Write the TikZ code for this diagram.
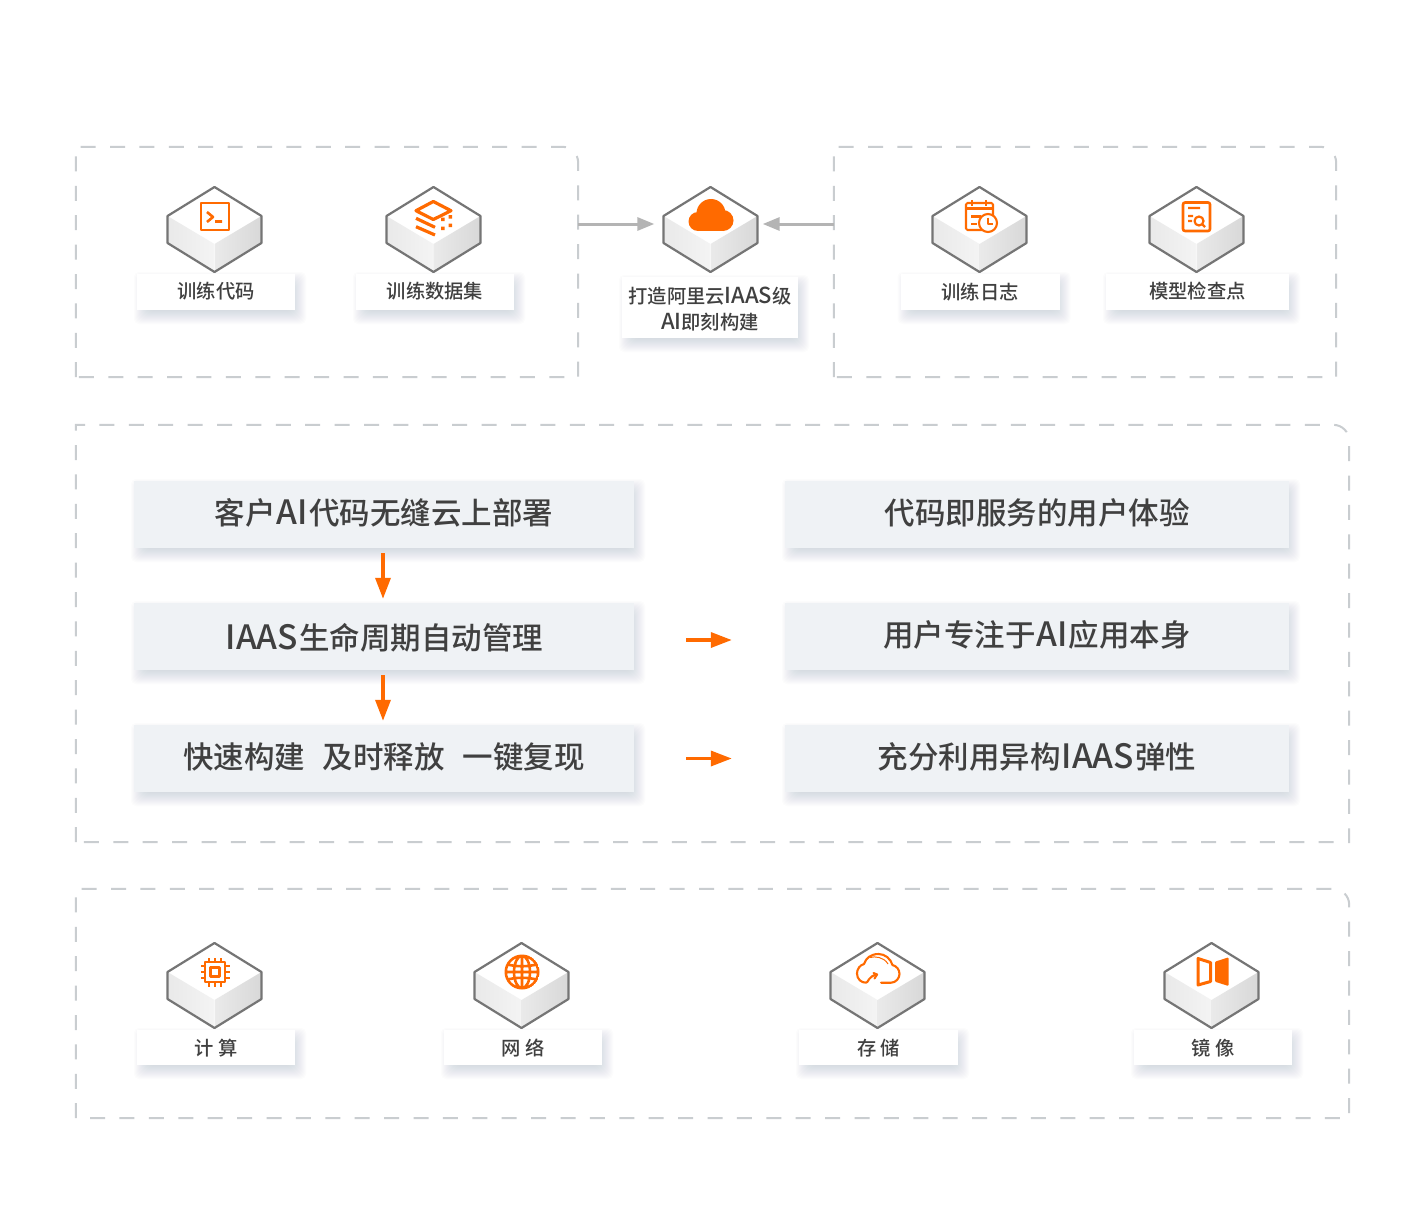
\documentclass[tikz,border=0pt]{standalone}
\usepackage{fontspec}
\setmainfont{Noto Sans CJK SC Medium}
\usetikzlibrary{arrows.meta}
\definecolor{org}{HTML}{FF6A00}
\definecolor{txt}{HTML}{404040}
\definecolor{dashc}{HTML}{C9CDD0}
\definecolor{shc}{HTML}{5F6F7F}
\definecolor{cubeline}{HTML}{757575}
\definecolor{greyarrow}{HTML}{B4B4B4}
\definecolor{mainfill}{HTML}{EFF2F5}
\definecolor{leftA}{HTML}{E9E9E9}\definecolor{leftB}{HTML}{F4F4F4}
\definecolor{rightA}{HTML}{EAEAEA}\definecolor{rightB}{HTML}{D8D8D8}
\newcommand{\lat}[1]{{\fontsize{33.5}{36}\selectfont\hspace{1pt}#1\hspace{1pt}}}
\newcommand{\lats}[1]{{\fontsize{22}{26}\selectfont #1}}
\newcommand{\up}[2]{\raisebox{#1}[\height][\depth]{#2}}
\tikzset{
  x=1pt,y=-1pt,
  lblbox/.style={fill=white,text=txt,font=\fontsize{19.3}{26}\selectfont,inner sep=0pt,align=center},
  mainbox/.style={fill=mainfill,text=txt,font=\fontsize{30.5}{36}\selectfont,inner sep=0pt,align=center},
  groupline/.style={draw=dashc,line width=2pt,dash pattern=on 15pt off 14.4pt},
  groupbox/.style={inner sep=0pt},
  cubeanchor/.style={inner sep=0pt,minimum width=94pt,minimum height=85pt},
  oarrow/.style={draw=org,line width=3.4pt,-{Triangle[length=21pt,width=15pt]}},
  garrow/.style={draw=greyarrow,line width=3pt,-{Triangle[length=17pt,width=13pt]}},
  icon/.style={draw=org,line width=2.6pt,fill=none,line join=round},
}
\newcommand{\boxnode}[7]{% name, style, cx, cy, w, h, text
  \foreach \i in {-8,...,8}{
    \fill[shc,opacity=.017,rounded corners=5pt] (#3+5-#5/2-\i,#4+6-#6/2-\i) rectangle (#3+3+#5/2+\i,#4+6+#6/2+\i);
  }
  \node[#2,minimum width=#5pt,minimum height=#6pt] (#1) at (#3,#4) {#7};}
\newcommand{\cubeat}[3]{%
  \node[cubeanchor] (#1) at (#2-0.5,#3+42.5) {};
  \begin{scope}[shift={(#2-0.5,#3)}]
    \fill[white] (0,0) -- (47,29) -- (0,57) -- (-47,29) -- cycle;
    \shade[left color=leftA,right color=leftB] (-47,29) -- (0,57) -- (0,85) -- (-47,56) -- cycle;
    \shade[left color=rightA,right color=rightB] (47,29) -- (0,57) -- (0,85) -- (47,56) -- cycle;
    \draw[cubeline,line width=2.2pt,line join=round] (0,0) -- (47,29) -- (47,56) -- (0,85) -- (-47,56) -- (-47,29) -- cycle;
  \end{scope}}
\newcommand{\groupframe}[1]{%
  \draw[groupline] (#1.south west) -- (#1.north west) -- ([xshift=-16pt]#1.north east) arc[start angle=90,end angle=0,radius=16pt] -- (#1.south east) -- cycle;}
\begin{document}
\begin{tikzpicture}
\fill[white] (0,0) rectangle (1418,1209);
\useasboundingbox (0,0) rectangle (1418,1209);
% groups
\node[groupbox,minimum width=502pt,minimum height=230pt] (g1) at (327,262) {};
\node[groupbox,minimum width=502pt,minimum height=230pt] (g2) at (1085,262) {};
\node[groupbox,minimum width=1273pt,minimum height=417pt] (g3) at (712.5,633.5) {};
\node[groupbox,minimum width=1273pt,minimum height=229pt] (g4) at (712.5,1003.5) {};
\groupframe{g1}\groupframe{g2}\groupframe{g3}\groupframe{g4}
% cubes
\cubeat{c1}{215}{187}\cubeat{c2}{434}{187}\cubeat{c3}{711}{187}\cubeat{c4}{980}{187}\cubeat{c5}{1197}{187}
\cubeat{d1}{215}{943}\cubeat{d2}{522}{943}\cubeat{d3}{878}{943}\cubeat{d4}{1212}{943}
% labels
\boxnode{l1}{lblbox}{216}{292}{158}{36}{\up{1pt}{训练代码}}
\boxnode{l2}{lblbox}{435}{292}{158}{36}{\up{1pt}{训练数据集}}
\boxnode{l3}{lblbox}{710}{307.5}{176}{61}{\up{-2pt}{打造阿里云\lats{IAAS}级}\\\up{-2pt}{\lats{AI}即刻构建}}
\boxnode{l4}{lblbox}{980}{292}{159}{36}{训练日志}
\boxnode{l5}{lblbox}{1197.5}{292}{183}{36}{\up{1pt}{模型检查点}}
\boxnode{b1}{lblbox}{216}{1047.5}{158}{35}{\up{-1pt}{计 算}}
\boxnode{b2}{lblbox}{523}{1047.5}{158}{35}{网 络}
\boxnode{b3}{lblbox}{878.5}{1047.5}{159}{35}{\up{-1pt}{存 储}}
\boxnode{b4}{lblbox}{1213}{1047.5}{158}{35}{\up{-1pt}{镜 像}}
% main boxes
\boxnode{m1}{mainbox}{384}{514.5}{500}{67}{\up{2pt}{客户\lat{AI}代码无缝云上部署}}
\boxnode{m2}{mainbox}{384}{636.5}{500}{67}{\up{-1pt}{\lat{IAAS}生命周期自动管理}}
\boxnode{m3}{mainbox}{384}{758.5}{500}{67}{\up{2pt}{快速构建\hspace{18pt}及时释放\hspace{18pt}一键复现}}
\boxnode{r1}{mainbox}{1037}{514.5}{504}{67}{\up{2pt}{代码即服务的用户体验}}
\boxnode{r2}{mainbox}{1037}{636.5}{504}{67}{\up{2pt}{用户专注于\lat{AI}应用本身}}
\boxnode{r3}{mainbox}{1037}{758.5}{504}{67}{\up{2pt}{充分利用异构\lat{IAAS}弹性}}
% arrows
\draw[oarrow,shorten <=5pt,shorten >=4pt] ([xshift=-1pt]m1.south) -- ([xshift=-1pt]m2.north);
\draw[oarrow,shorten <=5pt,shorten >=4pt] ([xshift=-1pt]m2.south) -- ([xshift=-1pt]m3.north);
\draw[oarrow,shorten <=52pt,shorten >=53pt] ([yshift=-3.5pt]m2.east) -- ([yshift=-3.5pt]r2.west);
\draw[oarrow,shorten <=52pt,shorten >=53pt] (m3.east) -- (r3.west);
\draw[garrow,shorten >=9pt] (g1.east |- 0,224) -- (c3.west |- 0,224);
\draw[garrow,shorten >=5pt] (g2.west |- 0,224) -- (c3.east |- 0,224);
% icon: terminal
\draw[icon] (201,203) rectangle (229,230);
\draw[icon] (207,212) -- (213,217) -- (207,222) (215,221.5) -- (222,221.5);
% icon: dataset
\draw[icon,line width=3.2pt] (433.3,201.5) -- (451,210.7) -- (433.3,219.5) -- (416,210.7) -- cycle;
\draw[icon,line width=3.2pt] (416,218.3) -- (435,227.3) (416,226.7) -- (435,235);
\fill[org] (441,217.5) rectangle ++(3.6,3.6) (448.5,215) rectangle ++(3.6,3.6) (441,226.5) rectangle ++(3.6,3.6) (448.5,223.5) rectangle ++(3.6,3.6);
% icon: cloud
\fill[org] (698,221.5) circle[radius=9.5pt] (711,213.5) circle[radius=14.5pt] (723,220.5) circle[radius=10.5pt];
\fill[org] (698,216) rectangle (723,231);
% icon: calendar clock
\draw[icon,line width=2.1pt,rounded corners=1.5pt] (984,230) -- (966,230) -- (966,203) -- (993,203) -- (993,216);
\draw[icon,line width=2.1pt] (966,208.5) -- (993,208.5) (972,200) -- (972,206) (986,200) -- (986,206) (971,216.5) -- (981,216.5) (971,224) -- (977,224);
\draw[icon,line width=2.1pt,fill=white] (988,223) circle[radius=9pt];
\draw[icon,line width=2.1pt] (988,217.5) -- (988,224) -- (993,224);
% icon: document search
\draw[icon,rounded corners=2pt] (1183,202.5) rectangle (1210,231);
\draw[icon,line width=2.2pt] (1188,208) -- (1200,208) (1188,216) -- (1193,216) (1188,221) -- (1192,221) (1199,221) circle[radius=4.5pt] (1202.5,224.5) -- (1205,227);
% icon: chip
\draw[icon] (205,962) rectangle (225,982) (210.5,967.5) rectangle (219.5,976.5);
\foreach \o in {-6,0,6}{
  \draw[icon,line width=2.2pt] (215+\o,962) -- (215+\o,957.5) (215+\o,982) -- (215+\o,986.5) (205,972+\o) -- (200.5,972+\o) (225,972+\o) -- (229.5,972+\o);
}
% icon: globe
\begin{scope}
  \clip (522,972) circle[radius=17.5pt];
  \draw[icon,line width=2.6pt] (522,972) circle[radius=16.2pt] (522,972) ellipse[x radius=8pt,y radius=16.2pt] (522,955) -- (522,990) (504,972) -- (540,972) (506,964) .. controls (515,967) and (529,967) .. (538,964) (506,980) .. controls (515,977) and (529,977) .. (538,980);
\end{scope}
% icon: cloud upload
\draw[icon,line width=2.1pt,line cap=round] (881,982.7) -- (891,982.7) .. controls (896,982.7) and (899.5,978) .. (899.5,974) .. controls (899.5,969.5) and (896.5,966) .. (892.5,965) .. controls (890.5,958.5) and (885,954) .. (878.5,954) .. controls (871,954) and (866,958) .. (864,964) .. controls (860,965) and (857,969) .. (857,973.5) .. controls (857,979) and (861,982.7) .. (866,982.7) .. controls (868.5,982.7) and (868,976) .. (877,974.5);
\draw[icon,line width=2.1pt,line cap=round] (873.5,973) -- (877,974.5) -- (874.5,978.5);
\draw[icon,line width=1pt] (870,957.5) .. controls (875,956) and (884,957) .. (888,964);
% icon: mirror
\draw[icon,line width=3pt] (1198,958.5) -- (1210.5,962.5) -- (1210.5,981.5) -- (1198,985) -- cycle;
\fill[org,rounded corners=1pt] (1215,961.7) -- (1228.5,957.3) -- (1228.5,986) -- (1215,981.7) -- cycle;
\end{tikzpicture}
\end{document}
